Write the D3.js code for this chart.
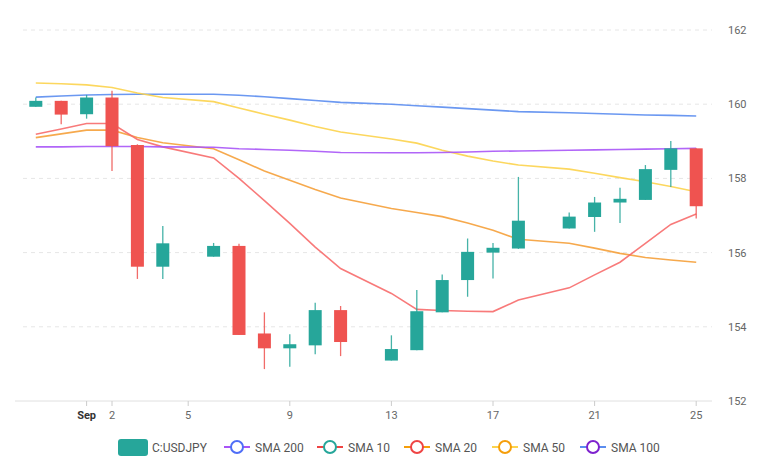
<!DOCTYPE html>
<html><head><meta charset="utf-8">
<script src="https://cdn.jsdelivr.net/npm/d3@7"></script>
<style>body{margin:0;background:#fff;font-family:Roboto,"Open Sans",sans-serif}</style>
</head><body><svg id="c" width="770" height="463"></svg>
<script>
const dates=["2024-08-30","2024-08-31","2024-09-01","2024-09-02","2024-09-03","2024-09-04","2024-09-06","2024-09-07","2024-09-08","2024-09-09","2024-09-10","2024-09-11","2024-09-13","2024-09-14","2024-09-15","2024-09-16","2024-09-17","2024-09-18","2024-09-20","2024-09-21","2024-09-22","2024-09-23","2024-09-24","2024-09-25"];
const open =[159.93,160.09,159.73,160.18,158.90,155.62,155.89,156.18,153.82,153.42,153.50,154.45,153.09,153.37,154.39,155.26,156.00,156.11,156.65,156.96,157.35,157.42,158.23,158.81];
const close=[160.09,159.72,160.18,158.87,155.62,156.25,156.18,153.78,153.42,153.53,154.45,153.59,153.40,154.42,155.26,156.02,156.13,156.86,156.97,157.35,157.45,158.25,158.81,157.25];
const high =[160.18,160.09,160.25,160.36,158.92,156.72,156.26,156.24,154.39,153.80,154.65,154.56,153.77,154.99,155.41,156.38,156.26,158.04,157.08,157.50,157.75,158.36,159.01,158.81];
const low  =[159.93,159.46,159.61,158.20,155.29,155.29,155.89,153.78,152.86,152.92,153.26,153.21,153.09,153.37,154.39,154.81,155.30,156.10,156.65,156.56,156.80,157.42,157.77,156.92];
const sma200=[160.19,160.22,160.25,160.26,160.27,160.27,160.27,160.24,160.2,160.15,160.1,160.05,160.0,159.96,159.92,159.88,159.84,159.8,159.77,159.75,159.73,159.71,159.7,159.68];
const sma10=[160.57,160.55,160.52,160.45,160.3,160.18,160.07,159.9,159.73,159.57,159.4,159.25,159.06,158.95,158.76,158.6,158.47,158.36,158.25,158.14,158.02,157.91,157.78,157.64];
const sma20=[159.1,159.2,159.3,159.3,159.1,158.96,158.8,158.5,158.2,157.95,157.7,157.47,157.19,157.08,156.97,156.8,156.6,156.36,156.25,156.12,155.98,155.87,155.8,155.74];
const sma50=[159.19,159.33,159.48,159.48,159.05,158.85,158.55,158.0,157.4,156.79,156.15,155.57,154.9,154.47,154.44,154.42,154.41,154.72,155.05,155.4,155.74,156.25,156.76,157.04];
const sma100=[158.85,158.85,158.86,158.86,158.86,158.85,158.84,158.8,158.78,158.76,158.73,158.7,158.69,158.69,158.7,158.71,158.73,158.74,158.76,158.77,158.78,158.79,158.8,158.81];
const yTicks=[152,154,156,158,160,162];
const xTicks=["2024-09-01","2024-09-02","2024-09-05","2024-09-09","2024-09-13","2024-09-17","2024-09-21","2024-09-25"];

const P=d3.utcParse("%Y-%m-%d");
const svg=d3.select("#c");
const x=d3.scaleUtc().domain([P("2024-08-29"),P("2024-09-26")]).range([10.4,721.6]);
const y=d3.scaleLinear().domain([152,162]).range([401,30]);
const teal="#26a69a", red="#ef5350";

// grid
svg.append("g").selectAll("line").data(yTicks.filter(v=>v>152)).join("line")
 .attr("x1",23).attr("x2",712).attr("y1",d=>y(d)).attr("y2",d=>y(d))
 .attr("stroke","#e6e6e6").attr("stroke-dasharray","4,4");
svg.append("line").attr("x1",15).attr("x2",712).attr("y1",y(152)).attr("y2",y(152)).attr("stroke","#e0e0e0");
svg.append("g").selectAll("text").data(yTicks).join("text")
 .attr("x",728).attr("y",d=>y(d)+4).text(d=>d).attr("font-size",11).attr("fill","#666");
// x ticks
const xt=svg.append("g");
xTicks.forEach(s=>{const d=P(s),px=x(d);
 xt.append("line").attr("x1",px).attr("x2",px).attr("y1",401).attr("y2",406).attr("stroke","#ccc");
 const first=d.getUTCDate()===1;
 xt.append("text").attr("x",px).attr("y",419).attr("text-anchor","middle").attr("font-size",11)
  .attr("fill",first?"#333":"#666").attr("font-weight",first?"bold":"normal")
  .text(first?d3.utcFormat("%b")(d):d.getUTCDate());
});
// lines
const series=[[sma200,"#5b8def"],[sma10,"#fcd34d"],[sma20,"#f5a03a"],[sma50,"#f76b6b"],[sma100,"#a855f7"]];
const line=d3.line().x((d,i)=>x(P(dates[i]))).y(d=>y(d));
series.forEach(([s,c])=>svg.append("path").attr("d",line(s)).attr("fill","none").attr("stroke",c).attr("stroke-width",1.6).attr("opacity",0.9));
// candles
const cg=svg.append("g");
dates.forEach((s,i)=>{const px=x(P(s)),up=close[i]>=open[i],c=up?teal:red;
 cg.append("line").attr("x1",px).attr("x2",px).attr("y1",y(high[i])).attr("y2",y(low[i])).attr("stroke",c).attr("stroke-width",1.3).attr("opacity",0.85);
 const t=y(Math.max(open[i],close[i])),b=y(Math.min(open[i],close[i]));
 cg.append("rect").attr("x",px-6.5).attr("width",13).attr("y",t).attr("height",Math.max(b-t,2)).attr("fill",c);
});
// legend
const lg=svg.append("g");
lg.append("rect").attr("x",118).attr("y",439).attr("width",30).attr("height",17).attr("rx",3).attr("fill",teal);
lg.append("text").attr("x",152).attr("y",452).text("C:USDJPY").attr("font-size",12).attr("fill","#555");
const items=[["SMA 200",237,"#4f6ef7","#a855f7"],["SMA 10",330,"#26a69a","#ef4444"],["SMA 20",417,"#ef4444","#f59e0b"],["SMA 50",505,"#f59e0b","#fcd34d"],["SMA 100",593,"#7e22ce","#5b8def"]];
items.forEach(([t,cx,cc,lc])=>{
 lg.append("line").attr("x1",cx-13).attr("x2",cx+13).attr("y1",447).attr("y2",447).attr("stroke",lc).attr("stroke-width",2);
 lg.append("circle").attr("cx",cx).attr("cy",447).attr("r",6).attr("fill","#fff").attr("stroke",cc).attr("stroke-width",2);
 lg.append("text").attr("x",cx+10+8).attr("y",452).text(t).attr("font-size",12).attr("fill","#555");
});
</script></body></html>
